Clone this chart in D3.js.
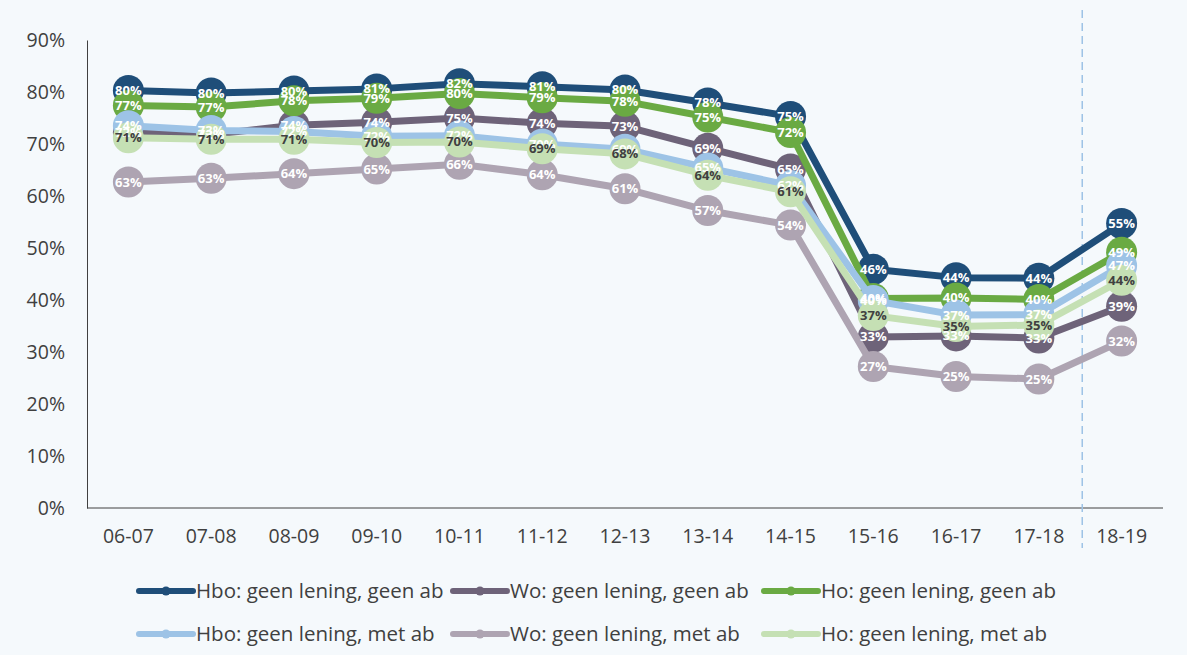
<html>
<script src='https://d3js.org/d3.v7.min.js'></script>
<style>
  body { margin: 0; background: #f5f9fc; }
  text { font-family: 'Open Sans', 'Noto Sans', sans-serif; }
</style>
<body>
<svg width=1187 height=655></svg>
<script>
// Data
const years = ['06-07','07-08','08-09','09-10','10-11','11-12','12-13','13-14','14-15','15-16','16-17','17-18','18-19']
const yTicks = [0, 0.1, 0.2, 0.3, 0.4, 0.5, 0.6, 0.7, 0.8, 0.9]
const seriesNames = ['Hbo: geen lening, geen ab', 'Wo: geen lening, geen ab', 'Ho: geen lening, geen ab',
                     'Hbo: geen lening, met ab', 'Wo: geen lening, met ab', 'Ho: geen lening, met ab']
const hboGeen = [0.803, 0.798, 0.802, 0.806, 0.816, 0.810, 0.804, 0.779, 0.753, 0.459, 0.443, 0.442, 0.547]
const woGeen  = [0.722, 0.718, 0.736, 0.742, 0.750, 0.740, 0.734, 0.692, 0.652, 0.329, 0.331, 0.327, 0.388]
const hoGeen  = [0.774, 0.771, 0.783, 0.788, 0.797, 0.789, 0.782, 0.752, 0.722, 0.403, 0.404, 0.401, 0.492]
const hboMet  = [0.735, 0.726, 0.724, 0.715, 0.716, 0.700, 0.690, 0.654, 0.620, 0.399, 0.371, 0.372, 0.466]
const woMet   = [0.627, 0.634, 0.643, 0.652, 0.661, 0.641, 0.614, 0.572, 0.544, 0.272, 0.253, 0.248, 0.321]
const hoMet   = [0.712, 0.709, 0.709, 0.703, 0.704, 0.691, 0.681, 0.640, 0.608, 0.370, 0.349, 0.352, 0.438]

const colors = ['#1f4e79', '#6e6379', '#6aaa43', '#9dc3e6', '#aea4b2', '#c5e0b4']
const labelColors = ['#fff', '#fff', '#fff', '#fff', '#fff', '#404040']
const allValues = [hboGeen, woGeen, hoGeen, hboMet, woMet, hoMet]
const series = seriesNames.map((n, i) => ({ name: n, values: allValues[i], color: colors[i], lc: labelColors[i] }))

const svg = d3.select('svg')
const plotLeft = 87, plotRight = 1163, plotTop = 40, plotBottom = 508

// Scales
const x = d3.scaleBand().domain(years).range([plotLeft, plotRight])
const y = d3.scaleLinear().domain([0, 0.9]).range([plotBottom, plotTop])
const cx = d => x(d) + x.bandwidth() / 2

svg.append('rect').attr('width', 1187).attr('height', 655).attr('fill', '#f5f9fc')

// Y axis
const yAxis = svg.append('g')
  .attr('transform', `translate(${plotLeft},0)`)
  .call(d3.axisLeft(y).tickValues(yTicks).tickFormat(d3.format('.0%')).tickSize(0).tickPadding(22))
yAxis.select('.domain').attr('stroke', '#404040')
yAxis.selectAll('text').attr('font-size', 19.5).attr('fill', '#404040')

// X axis
const xAxis = svg.append('g')
  .attr('transform', `translate(0,${plotBottom})`)
  .call(d3.axisBottom(x).tickSize(0).tickPadding(21))
xAxis.select('.domain').attr('stroke', '#404040').attr('d', `M${plotLeft},0H${plotRight}`)
xAxis.selectAll('text').attr('font-size', 19.5).attr('fill', '#404040')

// Dashed divider before last year
const divX = x('18-19') + 2
svg.append('line')
  .attr('x1', divX).attr('x2', divX).attr('y1', 10).attr('y2', 548)
  .attr('stroke', '#9dc3e6').attr('stroke-width', 1.5).attr('stroke-dasharray', '8,5')

// Lines and markers
const line = d3.line().x((d, i) => cx(years[i])).y(d => y(d))
const g = svg.append('g')
series.forEach(s => {
  g.append('path').attr('d', line(s.values)).attr('fill', 'none')
    .attr('stroke', s.color).attr('stroke-width', 7).attr('stroke-linejoin', 'round')
  g.selectAll(null).data(s.values).enter().append('circle')
    .attr('cx', (d, i) => cx(years[i])).attr('cy', d => y(d)).attr('r', 15.5)
    .attr('fill', s.color)
})

// Data labels
const fmt = d3.format('.0%')
series.forEach(s => {
  svg.append('g').selectAll('text').data(s.values).enter().append('text')
    .attr('x', (d, i) => cx(years[i])).attr('y', d => y(d)).attr('dy', '0.35em')
    .attr('text-anchor', 'middle').attr('font-size', 13).attr('font-weight', 'bold')
    .attr('fill', s.lc).text(d => fmt(d))
})

// Legend
const legX = [137, 451, 762], legY = [591, 634]
series.forEach((s, i) => {
  const lg = svg.append('g').attr('transform', `translate(${legX[i % 3]},${legY[Math.floor(i / 3)]})`)
  lg.append('line').attr('x1', 2).attr('x2', 56).attr('stroke', s.color)
    .attr('stroke-width', 6).attr('stroke-linecap', 'round')
  lg.append('circle').attr('cx', 29).attr('r', 4.5).attr('fill', s.color)
  lg.append('text').attr('x', 59).attr('dy', '0.35em').attr('font-size', 20.5)
    .attr('fill', '#404040').text(s.name)
})
</script>
</body>
</html>
